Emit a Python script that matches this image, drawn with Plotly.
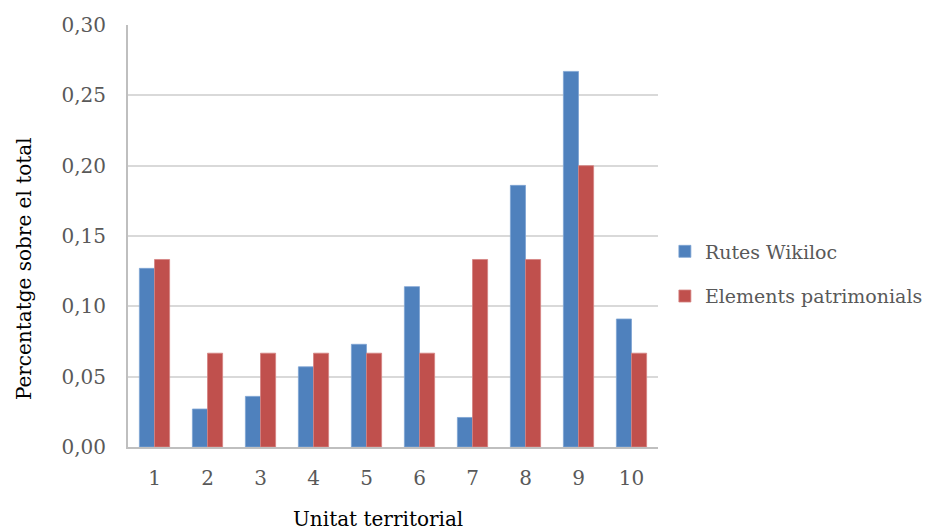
import plotly.graph_objects as go

units = ["1", "2", "3", "4", "5", "6", "7", "8", "9", "10"]
rutes_wikiloc = [0.127, 0.027, 0.036, 0.057, 0.073, 0.114, 0.021, 0.186, 0.267, 0.091]
elements_patrimonials = [0.1333, 0.0667, 0.0667, 0.0667, 0.0667, 0.0667, 0.1333, 0.1333, 0.2, 0.0667]

font_family = "DejaVu Serif"
text_grey = "#595959"

fig = go.Figure()
fig.add_trace(go.Bar(x=units, y=rutes_wikiloc, name="Rutes Wikiloc",
                     marker=dict(color="#4f81bd", line=dict(color="#7ea3d3", width=0.8)),
                     legendgroup="a"))
fig.add_trace(go.Bar(x=units, y=elements_patrimonials, name="Elements patrimonials",
                     marker=dict(color="#c0504d", line=dict(color="#d48381", width=0.8)),
                     legendgroup="b"))

# page body adds an 8px offset, so the figure is sized to fill the window after it
fig.update_layout(
    width=949, height=539,
    margin=dict(l=120, r=299, t=17, b=100),
    paper_bgcolor="white", plot_bgcolor="white",
    barmode="group", bargap=0.43, bargroupgap=0,
    font=dict(family=font_family, color=text_grey, size=20),
    separators=",.",
    showlegend=True,
    legend=dict(x=1.013, xanchor="left", y=0.41, yanchor="middle",
                font=dict(size=19, color=text_grey),
                tracegroupgap=17, bgcolor="rgba(0,0,0,0)"),
    xaxis=dict(
        automargin=False,
        showline=True, linecolor="#bfbfbf", linewidth=2,
        showgrid=False, ticks="", tickfont=dict(size=20, color=text_grey),
        ticklabelstandoff=12,
    ),
    yaxis=dict(
        automargin=False,
        range=[0, 0.30], dtick=0.05, tickformat=".2f",
        showline=True, linecolor="#bfbfbf", linewidth=2,
        showgrid=True, gridcolor="#d9d9d9", gridwidth=2,
        zeroline=False, ticks="", ticklen=0,
        tickfont=dict(size=20, color=text_grey),
        ticklabelstandoff=16,
    ),
)

# axis titles placed as annotations to match the original offsets
fig.add_annotation(text="Unitat territorial", xref="paper", yref="paper",
                   x=0.4717, y=-0.1706, xanchor="center", yanchor="middle",
                   showarrow=False, font=dict(size=20, color="black"))
fig.add_annotation(text="Percentatge sobre el total", xref="paper", yref="paper",
                   x=-0.196, y=0.4218, xanchor="center", yanchor="middle", textangle=-90,
                   showarrow=False, font=dict(size=20, color="black"))

fig.write_html("out.html")
